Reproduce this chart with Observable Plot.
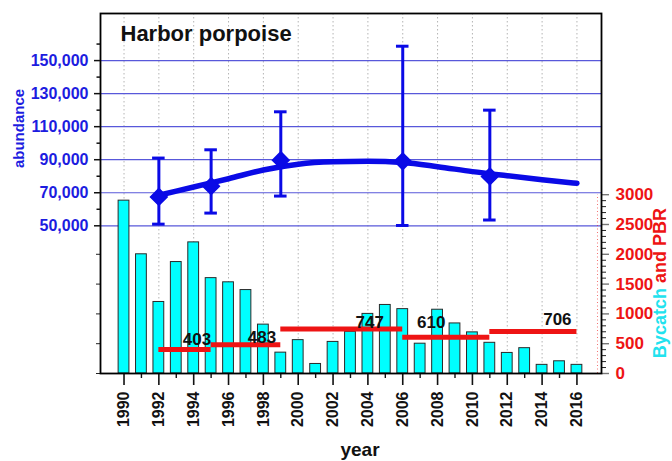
<!DOCTYPE html>
<html>
<head>
<meta charset="utf-8">
<script src="https://cdn.jsdelivr.net/npm/d3@7"></script>
<script src="https://cdn.jsdelivr.net/npm/@observablehq/plot@0.6"></script>
<style>
  html, body { margin: 0; padding: 0; background: #fff; }
  #chart { position: relative; width: 672px; height: 461px; overflow: hidden; }
  #chart svg { position: absolute; left: 0; top: 0; }
</style>
</head>
<body>
<div id="chart"></div>
<script>
// ---- data ----
const bycatchYears = d3.range(1990, 2017);
const bycatchValues = [2900, 2000, 1200, 1870, 2200, 1600, 1530, 1400, 820, 350, 560, 160, 530, 700, 1000, 1150, 1080, 500, 1070, 840, 690, 515, 345, 425, 145, 205, 145];

const surveyYears = [1992, 1995, 1999, 2006, 2011];
const surveyEstimates = [67500, 74000, 89700, 89054, 79883];
const surveyLower = [51000, 57700, 68000, 50200, 53500];
const surveyUpper = [91000, 96000, 119000, 158700, 120000];

const trendYears = [1992, 1994, 1996, 1998, 2000, 2002, 2004, 2006, 2008, 2010, 2012, 2014, 2016];
const trendValues = [68500, 73500, 78500, 83800, 87300, 88700, 89000, 88300, 85800, 82800, 80300, 77900, 75700];

const pbrStart = [1992, 1995, 1999, 2006, 2011];
const pbrEnd = [1995, 1999, 2006, 2011, 2016];
const pbrValues = [403, 483, 747, 610, 706];

const yearTicks = d3.range(1990, 2017, 2);
const yearMinorTicks = d3.range(1991, 2016, 2);
const abundanceTicks = [50000, 70000, 90000, 110000, 130000, 150000];
const abundanceMinorTicks = [60000, 80000, 100000, 120000, 140000, 160000];
const bycatchTicks = [0, 500, 1000, 1500, 2000, 2500, 3000];
const bycatchMinorTicks = d3.range(0, 3001, 100).filter(v => v % 500 !== 0);
const bycatchLeftTicks = [0, 500, 1000, 1500, 2000];

// ---- tables ----
const bycatch = bycatchYears.map((year, i) => ({year, value: bycatchValues[i]}));
const surveys = surveyYears.map((year, i) => ({year, est: surveyEstimates[i], lo: surveyLower[i], hi: surveyUpper[i]}));
const trend = trendYears.map((year, i) => ({year, value: trendValues[i]}));
const pbr = pbrStart.map((start, i) => ({start, end: pbrEnd[i], value: pbrValues[i]}));

// ---- layout / style ----
const xDomain = [1988.65, 2017.41];
const bycatchDomain = [0, 6040];
const abundanceDomain = [-39400, 178500];
const FONT = "'Liberation Sans', Arial, Helvetica, sans-serif";
const BLUE = "#0a0ae6";
const RED = "#ee1414";
const CYAN = "#22e2ee";
const common = {
  width: 672, height: 461,
  marginLeft: 100, marginRight: 71, marginTop: 13, marginBottom: 88,
  style: {background: "transparent", fontFamily: FONT, overflow: "visible"}
};
const pbrLabelNudge = [[12, -10], [16, -7], [28, -6], [-15, -15], [24, -12]];

// Layer A: grid lines (abundance scale)
const gridLayer = Plot.plot({
  ...common,
  x: {type: "linear", domain: xDomain, axis: null},
  y: {domain: abundanceDomain, axis: null},
  marks: [
    Plot.ruleX(yearTicks, {stroke: "#b4b4b4", strokeDasharray: "1.5,2.5", strokeWidth: 1}),
    Plot.ruleY(abundanceTicks, {stroke: "#5858da", strokeWidth: 1.2})
  ]
});

// Layer B: bycatch bars, PBR, x axis, right axis
const bycatchLayer = Plot.plot({
  ...common,
  x: {type: "linear", domain: xDomain},
  y: {domain: bycatchDomain},
  marks: [
    Plot.rectY(bycatch, {x1: d => d.year - 0.31, x2: d => d.year + 0.31, y: "value", fill: "#00ffff", stroke: "#2a2a2a", strokeWidth: 1}),
    Plot.ruleX([xDomain[1] - 0.23], {y1: 0, y2: 3000, stroke: RED, strokeOpacity: 0.6, strokeDasharray: "1,2.5"}),
    Plot.ruleY(pbr, {x1: "start", x2: "end", y: "value", stroke: RED, strokeWidth: 5}),
    ...pbr.map((d, i) => Plot.text([d], {
      x: p => (p.start + p.end) / 2, y: "value", text: p => String(p.value),
      dx: pbrLabelNudge[i][0], dy: pbrLabelNudge[i][1],
      fontSize: 17, fontWeight: "bold", fill: "#111", lineAnchor: "middle"
    })),
    Plot.axisX(yearTicks, {anchor: "bottom", tickSize: 12, tickPadding: 6, tickRotate: -90, tickFormat: d => String(d),
      fontSize: 16, fontWeight: "bold", fill: "#111", stroke: "#111", strokeWidth: 1.6, label: null}),
    Plot.axisX(yearMinorTicks, {anchor: "bottom", tickSize: 5, tickFormat: () => "", stroke: "#111", strokeWidth: 1.4, label: null}),
    Plot.axisY(bycatchTicks, {anchor: "right", tickSize: 7, tickPadding: 7, tickFormat: d => String(d),
      fontSize: 17, fontWeight: "bold", fill: RED, stroke: "#777", strokeWidth: 1.4, label: null}),
    Plot.axisY(bycatchMinorTicks, {anchor: "right", tickSize: 4, tickFormat: () => "", stroke: "#222", label: null}),
    Plot.axisY(bycatchLeftTicks, {anchor: "left", tickSize: 4, tickFormat: () => "", stroke: "#222", label: null}),
    Plot.frame({stroke: "#000", strokeWidth: 1.8}),
    Plot.text(["year"], {frameAnchor: "bottom", dx: 9, dy: 76, lineAnchor: "middle", fontSize: 19, fontWeight: "bold", fill: "#111"}),
    Plot.text(["Bycatch"], {frameAnchor: "right", dx: 59, dy: 94.6, rotate: -90, textAnchor: "end", lineAnchor: "middle", fontSize: 18, fontWeight: "bold", fill: CYAN}),
    Plot.text(["and PBR"], {frameAnchor: "right", dx: 59, dy: 89.4, rotate: -90, textAnchor: "start", lineAnchor: "middle", fontSize: 18, fontWeight: "bold", fill: RED})
  ]
});

// Layer C: abundance
const abundanceLayer = Plot.plot({
  ...common,
  x: {type: "linear", domain: xDomain, axis: null},
  y: {domain: abundanceDomain},
  marks: [
    Plot.ruleX(surveys, {x: "year", y1: "lo", y2: "hi", stroke: BLUE, strokeWidth: 3}),
    Plot.ruleY(surveys, {x1: d => d.year - 0.36, x2: d => d.year + 0.36, y: "hi", stroke: BLUE, strokeWidth: 3}),
    Plot.ruleY(surveys, {x1: d => d.year - 0.36, x2: d => d.year + 0.36, y: "lo", stroke: BLUE, strokeWidth: 3}),
    Plot.line(trend, {x: "year", y: "value", stroke: BLUE, strokeWidth: 5.5, curve: "monotone-x", strokeLinecap: "round"}),
    Plot.dot(surveys, {x: "year", y: "est", symbol: "diamond2", r: 7.5, fill: BLUE, stroke: BLUE}),
    Plot.axisY(abundanceTicks, {anchor: "left", tickSize: 6, tickPadding: 6, tickFormat: d3.format(","),
      fontSize: 16, fontWeight: "bold", fill: "#1c1ce0", stroke: "#111", strokeWidth: 1.5, label: null}),
    Plot.axisY(abundanceMinorTicks, {anchor: "left", tickSize: 3.5, tickFormat: () => "", stroke: "#111", strokeWidth: 1.5, label: null}),
    Plot.text(["abundance"], {frameAnchor: "left", dx: -81, dy: -65, rotate: -90, textAnchor: "middle", lineAnchor: "middle", fontSize: 15, fontWeight: "bold", fill: "#1c1ce0"}),
    Plot.text(["Harbor porpoise"], {frameAnchor: "top-left", dx: 20, dy: 12, lineAnchor: "top", textAnchor: "start", fontSize: 22, fontWeight: "bold", fill: "#111"})
  ]
});

const chart = document.getElementById("chart");
chart.append(gridLayer, bycatchLayer, abundanceLayer);
</script>
</body>
</html>
